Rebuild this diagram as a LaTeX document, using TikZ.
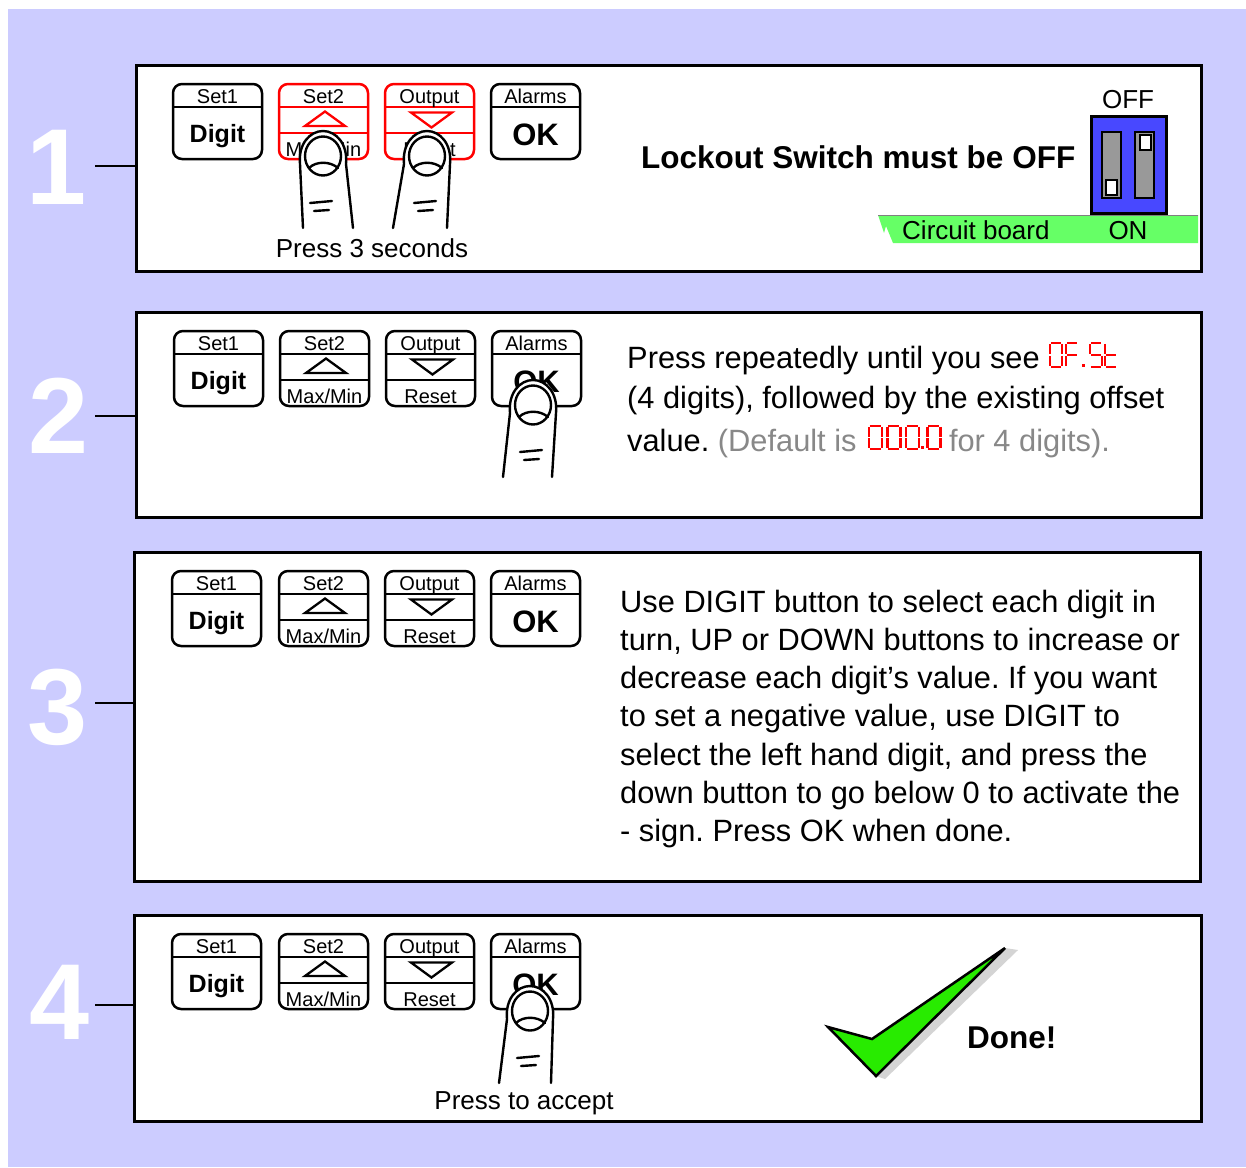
\documentclass[tikz,border=0pt]{standalone}
\usepackage{fontspec}
\setmainfont{Liberation Sans}
\usetikzlibrary{calc}

\definecolor{lavender}{RGB}{204,204,255}
\definecolor{switchblue}{RGB}{72,72,255}
\definecolor{slotgrey}{RGB}{153,153,153}
\definecolor{boardgreen}{RGB}{102,255,102}
\definecolor{tickgreen}{RGB}{40,235,0}
\definecolor{tickshadow}{RGB}{212,212,212}
\definecolor{notegrey}{RGB}{136,136,136}
\definecolor{segred}{RGB}{255,0,0}

\newcommand\fsz[1]{\fontsize{#1}{#1}\selectfont}

% seven-segment digit parts, origin at the bottom-left of the digit
\newcommand\segw{12}
\newcommand\segh{24}
\newcommand\sgap{0.9}
\newcommand\sega{\draw[seg] (\sgap,-\segh) -- ({\segw-\sgap},-\segh);}
\newcommand\segb{\draw[seg] (\segw,{-\segh+\sgap}) -- (\segw,{-\segh/2-\sgap});}
\newcommand\segc{\draw[seg] (\segw,{-\segh/2+\sgap}) -- (\segw,-\sgap);}
\newcommand\segd{\draw[seg] (\sgap,0) -- ({\segw-\sgap},0);}
\newcommand\sege{\draw[seg] (0,{-\segh/2+\sgap}) -- (0,-\sgap);}
\newcommand\segf{\draw[seg] (0,{-\segh+\sgap}) -- (0,{-\segh/2-\sgap});}
\newcommand\segg{\draw[seg] (\sgap,{-\segh/2}) -- ({\segw-\sgap},{-\segh/2});}
\newcommand\sevdigit[2]{\begin{scope}[xshift=#1pt]\foreach \s in {#2}{\csname seg\s\endcsname}\end{scope}}
\newcommand\sevdot[1]{\fill[segred] ({#1-1.5},-2.8) rectangle ({#1+1.5},0.2);}

\tikzset{
  panel/.style={draw=black, line width=3pt, fill=white, rectangle, inner sep=0pt, anchor=north west},
  link/.style={line width=2.5pt},
  stepnum/.style={text=white, font=\fsz{108}\bfseries, inner sep=0pt},
  body/.style={font=\fsz{30.8}\frenchspacing, inner sep=0pt, anchor=base west},
  small/.style={font=\fsz{26}, inner sep=0pt},
  keylabel/.style={font=\fsz{20}, inner sep=0pt, anchor=base},
  fingerline/.style={line width=2.4pt, line cap=round, line join=round},
  seg/.style={draw=segred, line width=2.5pt},
  pics/keytwo/.style n args={4}{code={
    \draw[line width=2.5pt, fill=white, rounded corners=9pt] (0,0) rectangle (89,75);
    \draw[line width=2pt] (0,23) -- (89,23);
    \node[keylabel] (-top) at (44.5,19) {#1};
    \node[font={\fsz{#3}\bfseries}, inner sep=0pt, anchor=base] (-main) at (44.5,#4) {#2};
  }},
  pics/keyup/.style n args={3}{code={
    \draw[line width=2.5pt, draw=#3, fill=white, rounded corners=9pt] (0,0) rectangle (89,75);
    \draw[line width=2pt, draw=#3] (0,23) -- (89,23) (0,49) -- (89,49);
    \draw[line width=2.3pt, draw=#3] (26,42) -- (46,27.5) -- (66,42) -- cycle;
    \node[keylabel] (-top) at (44.5,19) {#1};
    \node[keylabel] (-bottom) at (44.5,72) {#2};
  }},
  pics/keydown/.style n args={3}{code={
    \draw[line width=2.5pt, draw=#3, fill=white, rounded corners=9pt] (0,0) rectangle (89,75);
    \draw[line width=2pt, draw=#3] (0,23) -- (89,23) (0,49) -- (89,49);
    \draw[line width=2.3pt, draw=#3] (26,28.5) -- (67,28.5) -- (46.5,43.5) -- cycle;
    \node[keylabel] (-top) at (44.5,19) {#1};
    \node[keylabel] (-bottom) at (44.5,72) {#2};
  }},
  pics/finger/.style 2 args={code={
    \fill[white] (#1,72) -- (-23,8) .. controls (-25,-12) and (-13,-25) .. (0,-25)
      .. controls (13,-25) and (25,-12) .. (23,8) -- (#2,72) -- cycle;
    \draw[fingerline] (#1,72) -- (-23,8) .. controls (-25,-12) and (-13,-25) .. (0,-25)
      .. controls (13,-25) and (25,-12) .. (23,8) -- (#2,72);
    \draw[fingerline] (0,0) ellipse [x radius=18, y radius=19.5];
    \draw[fingerline] (-14,12) .. controls (-7,5) and (7,5) .. (15,12);
    \draw[fingerline] (-13,47) -- (9,45);
    \draw[fingerline] (-9,55) -- (6,54);
  }}
}

\begin{document}
\begin{tikzpicture}[x=1pt,y=-1pt]
\useasboundingbox (0,0) rectangle (1246,1167);
\fill[lavender] (8,9) rectangle (1246,1167);

% ---------- frames ----------
\node[panel, minimum width=1065pt, minimum height=206pt] (p1) at (135,64) {};
\node[panel, minimum width=1065pt, minimum height=205pt] (p2) at (135,311) {};
\node[panel, minimum width=1066pt, minimum height=329pt] (p3) at (133,551) {};
\node[panel, minimum width=1067pt, minimum height=206pt] (p4) at (133,914) {};

% ---------- step numbers ----------
\node[stepnum] (n1) at (57,167) {1};
\node[stepnum] (n2) at (59,416) {2};
\node[stepnum] (n3) at (58,707) {3};
\node[stepnum] (n4) at (60,1002) {4};
\coordinate (c1) at (95,166);
\coordinate (c2) at (95,416);
\coordinate (c3) at (95,703);
\coordinate (c4) at (95,1005);
\draw[link] (c1) -- (c1 -| p1.west);
\draw[link] (c2) -- (c2 -| p2.west);
\draw[link] (c3) -- (c3 -| p3.west);
\draw[link] (c4) -- (c4 -| p4.west);

% ---------- step 1 ----------
\pic (k1a) at (173,84) {keytwo={Set1}{Digit}{25}{58}};
\pic (k1b) at (279,84) {keyup={Set2}{Max/Min}{red}};
\pic (k1c) at (385,84) {keydown={Output}{Reset}{red}};
\pic (k1d) at (491,84) {keytwo={Alarms}{OK}{31}{61}};
\pic at (323,156) {finger={-20}{30}};
\pic at (427,156) {finger={-34}{20}};
\node[small, anchor=base] (press3) at (372,257) {Press 3 seconds};

\node[font=\fsz{31.5}\bfseries, inner sep=0pt, anchor=base west] (lock) at (641,168) {Lockout Switch must be OFF};
\fill[boardgreen] (878,215) -- (1198,215) -- (1198,243) -- (893,243) -- (886,226) -- (884,233) -- cycle;
\draw[gray, line width=1pt] (878,215) -- (1198,215);
\node[small, anchor=base west] (board) at (902,239) {Circuit board};
\node[small, anchor=base] (on) at (1128,239) {ON};
\node[small, anchor=base] (off) at (1128,108) {OFF};
\draw[line width=3pt, fill=switchblue] (1091,116) rectangle (1166,213);
\draw[line width=2.5pt, fill=slotgrey] (1102,132) rectangle (1121,198);
\draw[line width=2.5pt, fill=slotgrey] (1135,132) rectangle (1154,198);
\draw[line width=2.5pt, fill=white] (1106,180) rectangle (1117,195);
\draw[line width=2.5pt, fill=white] (1140,135) rectangle (1151,150);

% ---------- step 2 ----------
\pic (k2a) at (174,331) {keytwo={Set1}{Digit}{25}{58}};
\pic (k2b) at (280,331) {keyup={Set2}{Max/Min}{black}};
\pic (k2c) at (386,331) {keydown={Output}{Reset}{black}};
\pic (k2d) at (492,331) {keytwo={Alarms}{OK}{31}{61}};
\pic at (533,405) {finger={-30}{19}};

\node[body] (l1) at (627,368) {Press repeatedly until you see};
\begin{scope}[shift={(l1.base east)}, xshift=10pt, yshift=1pt]
  \sevdigit{0}{a,b,c,d,e,f}
  \sevdigit{16}{a,e,f,g}
  \sevdot{33}
  \sevdigit{40}{a,f,g,c,d}
  \sevdigit{55}{d,e,f,g}
\end{scope}
\node[body] (l2) at (627,408) {(4 digits), followed by the existing offset};
\node[body] (l3) at (627,451) {value. \textcolor{notegrey}{(Default is}};
\begin{scope}[shift={(l3.base east)}, xshift=12pt, yshift=2pt]
  \renewcommand\segw{13}
  \renewcommand\segh{23}
  \sevdigit{0}{a,b,c,d,e,f}
  \sevdigit{18.5}{a,b,c,d,e,f}
  \sevdigit{37}{a,b,c,d,e,f}
  \sevdot{54}
  \sevdigit{58.5}{a,b,c,d,e,f}
\end{scope}
\node[body, text=notegrey] (l3b) at ($(l3.base east)+(92,0)$) {for 4 digits).};

% ---------- step 3 ----------
\pic (k3a) at (172,571) {keytwo={Set1}{Digit}{25}{58}};
\pic (k3b) at (279,571) {keyup={Set2}{Max/Min}{black}};
\pic (k3c) at (385,571) {keydown={Output}{Reset}{black}};
\pic (k3d) at (491,571) {keytwo={Alarms}{OK}{31}{61}};
\foreach \ln [count=\i from 0] in {
  {Use DIGIT button to select each digit in},
  {turn, UP or DOWN buttons to increase or},
  {decrease each digit’s value. If you want},
  {to set a negative value, use DIGIT to},
  {select the left hand digit, and press the},
  {down button to go below 0 to activate the},
  {- sign. Press OK when done.}}
  \node[body] (t3-\i) at (620,{612+38.3*\i}) {\ln};

% ---------- step 4 ----------
\pic (k4a) at (172,934) {keytwo={Set1}{Digit}{25}{58}};
\pic (k4b) at (279,934) {keyup={Set2}{Max/Min}{black}};
\pic (k4c) at (385,934) {keydown={Output}{Reset}{black}};
\pic (k4d) at (491,934) {keytwo={Alarms}{OK}{31}{61}};
\pic at (530,1011) {finger={-31}{21}};
\node[small, anchor=base] (accept) at (524,1109) {Press to accept};

\fill[tickshadow] (872,1039) -- (1005,948) -- (1018,950) -- (885,1079) -- (876,1076) -- cycle;
\draw[line width=2.5pt, fill=tickgreen, line join=miter] (828,1027) -- (872,1039) -- (1005,948) -- (876,1076) -- cycle;
\node[font=\fsz{31.5}\bfseries, inner sep=0pt, anchor=base west] (done) at (967,1048) {Done!};
\end{tikzpicture}
\end{document}
